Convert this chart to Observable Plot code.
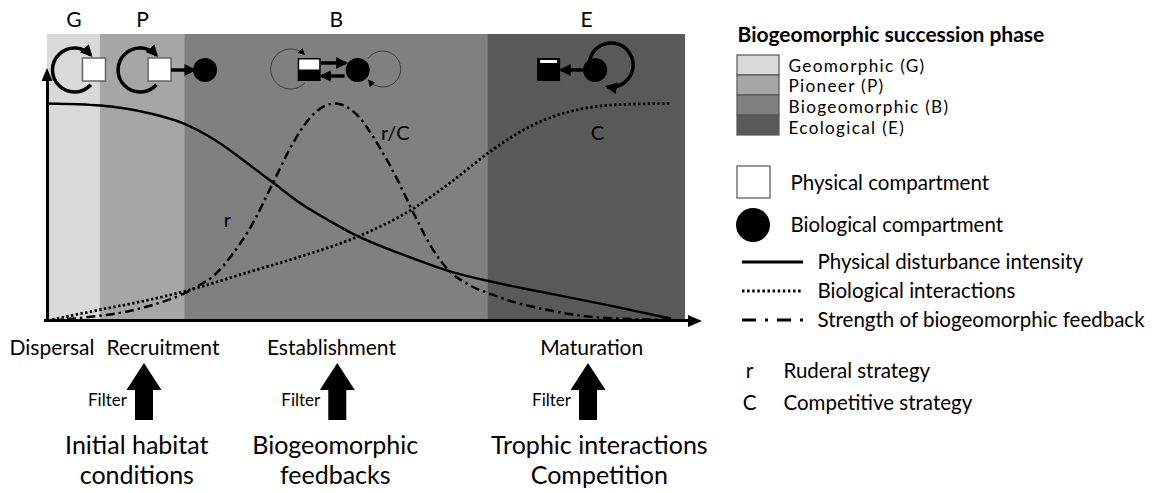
<!DOCTYPE html>
<html><head><meta charset="utf-8">
<script src="https://cdn.jsdelivr.net/npm/d3@7"></script>
<script src="https://cdn.jsdelivr.net/npm/@observablehq/plot@0.6"></script>
<style>
body{margin:0;background:#fff;}
#chart svg{font-family:Lato,"Open Sans",sans-serif;}
</style>
</head><body><div id="chart"></div>
<script>
// ---- data ----
const phaseCodes = ["G", "P", "B", "E"];
const phaseNames = ["Geomorphic (G)", "Pioneer (P)", "Biogeomorphic (B)", "Ecological (E)"];
const phaseStart = [0, 8.3, 21.5, 69];
const phaseEnd = [8.3, 21.5, 69, 100];
const phaseColors = ["#d9d9d9", "#a6a6a6", "#808080", "#595959"];

// Physical disturbance intensity (solid)
const disturbanceX = [0, 8.3, 16.1, 21.3, 26.6, 31.8, 35.3, 39.7, 44.4, 48.7, 55.3, 63.2, 71, 78.8, 88.2, 97.6];
const disturbanceY = [75.9, 75.2, 72.4, 68.9, 62.6, 54.2, 48.3, 40.9, 34.6, 29.4, 23.4, 17.1, 12.9, 9.4, 5.2, 0.7];
// Biological interactions (dotted)
const interactionsX = [0, 8.3, 16.1, 21.3, 31.8, 39.7, 48.7, 57.4, 63.2, 69.4, 76.2, 84, 89.8, 97.6];
const interactionsY = [0, 3.8, 7.3, 10.1, 17.1, 22.4, 29.4, 39.2, 48.3, 59.1, 68.5, 74.1, 75.5, 75.9];
// Strength of biogeomorphic feedback (dash-dot)
const feedbackX = [0, 4.1, 15, 22.9, 26.6, 29.2, 31.8, 35.3, 38.1, 41.2, 45.1, 48.6, 51.7, 54.9, 57.4, 60.5, 63.2, 64.7, 71, 78.8, 86.7, 97.6];
const feedbackY = [0, 0.7, 4.5, 11.2, 16.8, 23.8, 32.5, 47.9, 60.5, 71, 75.9, 71.7, 61.9, 49, 37.4, 24.5, 16.8, 14.3, 8, 3.5, 1, 0.2];

const curveLabels = ["r", "r/C", "C"];
const curveLabelX = [28.2, 54.5, 86.2];
const curveLabelY = [35, 65.5, 65.5];

const stageLabels = ["Dispersal", "Recruitment", "Establishment", "Maturation"];
const stageX = [0.7, 18.1, 44.5, 85.3];
const filterDrivers = ["Initial habitat\nconditions", "Biogeomorphic\nfeedbacks", "Trophic interactions\nCompetition"];
const filterX = [15.2, 45.5, 84.8];
const driverX = [14, 45.1, 86.5];

const legendTitle = "Biogeomorphic succession phase";
const compartmentLabels = ["Physical compartment", "Biological compartment"];
const lineLabels = ["Physical disturbance intensity", "Biological interactions", "Strength of biogeomorphic feedback"];
const strategySymbols = ["r", "C"];
const strategyLabels = ["Ruderal strategy", "Competitive strategy"];

// ---- tables ----
const bands = phaseCodes.map((c, i) => ({code: c, name: phaseNames[i], x1: phaseStart[i], x2: phaseEnd[i], color: phaseColors[i]}));
const pts = (xs, ys) => xs.map((x, i) => ({x, y: ys[i]}));
const disturbance = pts(disturbanceX, disturbanceY);
const interactions = pts(interactionsX, interactionsY);
const feedback = pts(feedbackX, feedbackY);

// ---- layout (pixel helpers) ----
const XR = [47, 685], YR = [320, 34];
const ux = p => (p - XR[0]) / (XR[1] - XR[0]) * 100;
const uy = p => (YR[0] - p) / (YR[0] - YR[1]) * 100;
const FONT = 'Lato,"Open Sans",sans-serif';
const LEG = 20.5;

const lineStyles = [
  {dash: null, w: 3},
  {dash: "2.5,2.6", w: 3},
  {dash: "14,9,3,9", w: 3}
];

function glyphs(index, scales) {
  const g = d3.create("svg:g");
  const defs = g.append("defs");
  const marker = (id, size) => defs.append("marker").attr("id", id)
    .attr("viewBox", "0 0 10 10").attr("refX", 8).attr("refY", 5)
    .attr("markerUnits", "userSpaceOnUse").attr("markerWidth", size).attr("markerHeight", size)
    .attr("orient", "auto").append("path").attr("d", "M0,0L10,5L0,10Z").attr("fill", "black");
  marker("ahBig", 12); marker("ahSmall", 7);
  const rad = a => a * Math.PI / 180;
  const arc = (cx, cy, r, a0, a1) => {
    const span = ((a1 - a0) % 360 + 360) % 360;
    const p0 = [cx + r * Math.cos(rad(a0)), cy + r * Math.sin(rad(a0))];
    const p1 = [cx + r * Math.cos(rad(a1)), cy + r * Math.sin(rad(a1))];
    return `M${p0}A${r},${r} 0 ${span > 180 ? 1 : 0} 1 ${p1}`;
  };
  const loop = (cx, cy, r, a0, a1, thick) => g.append("path").attr("d", arc(cx, cy, r, a0, a1))
    .attr("fill", "none").attr("stroke", thick ? "black" : "#333").attr("stroke-width", thick ? 3.5 : 0.9)
    .attr("marker-end", thick ? "url(#ahBig)" : "url(#ahSmall)");
  const arrow = (x1, y1, x2, y2) => g.append("line").attr("x1", x1).attr("y1", y1).attr("x2", x2).attr("y2", y2)
    .attr("stroke", "black").attr("stroke-width", 3.5).attr("marker-end", "url(#ahBig)");
  const square = (x, y, kind) => {
    const s = 23;
    if (kind === "white") g.append("rect").attr("x", x).attr("y", y).attr("width", s).attr("height", s).attr("fill", "white").attr("stroke", "#666").attr("stroke-width", 1.5);
    if (kind === "half") {
      g.append("rect").attr("x", x).attr("y", y).attr("width", s).attr("height", s).attr("fill", "black");
      g.append("rect").attr("x", x + 1.5).attr("y", y + 1.5).attr("width", s - 3).attr("height", 10).attr("fill", "white");
    }
    if (kind === "black") {
      g.append("rect").attr("x", x).attr("y", y).attr("width", s).attr("height", s).attr("fill", "black");
      g.append("rect").attr("x", x + 3).attr("y", y + 2).attr("width", s - 6).attr("height", 3).attr("fill", "white");
    }
  };
  const circle = (cx, cy, r) => g.append("circle").attr("cx", cx).attr("cy", cy).attr("r", r).attr("fill", "black");

  // phase icons (placed relative to band centres)
  const bc = bands.map(b => scales.x((b.x1 + b.x2) / 2));
  // G
  loop(bc[0] + 1, 70, 22, 42, 318, true); square(bc[0] + 9, 58, "white");
  // P
  loop(bc[1] - 2, 70, 22, 42, 318, true); square(bc[1] + 6, 58, "white");
  arrow(bc[1] + 29, 70, bc[1] + 52, 70); circle(bc[1] + 63, 70, 12);
  // B
  loop(bc[2] - 45, 69, 20, 45, 312, false); loop(bc[2] + 47, 69, 18, 215, 140, false);
  square(bc[2] - 38, 58, "half"); circle(bc[2] + 22, 70, 12);
  arrow(bc[2] - 15, 63, bc[2] + 10, 63); arrow(bc[2] + 9, 76, bc[2] - 14, 76);
  // E
  loop(bc[3] + 25, 65, 22, 190, 100, true);
  square(bc[3] - 49, 58, "black"); circle(bc[3] + 9, 70, 12);
  arrow(bc[3] - 3, 70, bc[3] - 25, 70);

  // axis heads
  const x0 = scales.x(0), y0 = scales.y(0);
  g.append("path").attr("d", `M${x0},${y0 - 252}L${x0 - 5.5},${y0 - 239}L${x0 + 5.5},${y0 - 239}Z`).attr("fill", "black");
  g.append("path").attr("d", `M${x0 + 655},${y0 + 1}L${x0 + 641},${y0 - 5}L${x0 + 641},${y0 + 7}Z`).attr("fill", "black");

  // filter arrows
  filterX.forEach(fx => {
    const cx = scales.x(fx);
    g.append("path").attr("d", `M${cx},363L${cx + 17.5},390L${cx + 9},390L${cx + 9},420L${cx - 9},420L${cx - 9},390L${cx - 17.5},390Z`).attr("fill", "black");
  });

  // legend swatches
  bands.forEach((b, i) => g.append("rect").attr("x", 737).attr("y", 55 + i * 20).attr("width", 42).attr("height", 20)
    .attr("fill", b.color).attr("stroke", "#555").attr("stroke-width", 1.2));
  g.append("rect").attr("x", 737).attr("y", 166).attr("width", 33).attr("height", 32).attr("fill", "white").attr("stroke", "#555").attr("stroke-width", 1.2);
  g.append("circle").attr("cx", 753).attr("cy", 225).attr("r", 17).attr("fill", "black");
  lineStyles.forEach((s, i) => {
    const l = g.append("line").attr("x1", 742).attr("x2", 803).attr("y1", 262 + i * 29).attr("y2", 262 + i * 29)
      .attr("stroke", "black").attr("stroke-width", s.w);
    if (s.dash) l.attr("stroke-dasharray", s.dash);
  });
  return g.node();
}

const chart = Plot.plot({
  width: 1165, height: 493,
  margin: 0,
  x: {domain: [0, 100], range: XR, axis: null},
  y: {domain: [0, 100], range: YR, axis: null},
  style: {fontFamily: FONT, background: "white", color: "black"},
  marks: [
    Plot.rect(bands, {x1: "x1", x2: "x2", y1: 0, y2: 100, fill: "color"}),
    Plot.text(bands, {x: d => (d.x1 + d.x2) / 2, y: uy(20), text: "code", fontSize: 21, fill: "black"}),
    Plot.line(disturbance, {x: "x", y: "y", curve: "monotone-x", stroke: "black", strokeWidth: 2.5}),
    Plot.line(interactions, {x: "x", y: "y", curve: "monotone-x", stroke: "black", strokeWidth: 2.8, strokeLinecap: "butt", strokeDasharray: "2.4,2.4"}),
    Plot.line(feedback, {x: "x", y: "y", curve: "monotone-x", stroke: "black", strokeWidth: 2.5, strokeLinecap: "butt", strokeDasharray: "9,4,2.5,4"}),
    Plot.text(curveLabels, {x: (d, i) => curveLabelX[i], y: (d, i) => curveLabelY[i], text: d => d, fontSize: 20, fill: "black"}),
    Plot.ruleX([0], {y1: 0, y2: uy(78), stroke: "black", strokeWidth: 3}),
    Plot.ruleY([0], {x1: ux(44), x2: ux(690), stroke: "black", strokeWidth: 3}),
    glyphs,
    // bottom annotations
    Plot.text(stageLabels, {x: (d, i) => stageX[i], y: uy(348), text: d => d, fontSize: 21, fill: "black"}),
    Plot.text(filterX, {x: d => d, y: uy(400), dx: -37, text: () => "Filter", fontSize: 17, fill: "black"}),
    Plot.text(filterDrivers, {x: (d, i) => driverX[i], y: uy(459), text: d => d, fontSize: 25, lineHeight: 1.18, fill: "black"}),
    // legend
    Plot.text([legendTitle], {x: ux(737), y: uy(35), text: d => d, textAnchor: "start", fontSize: 21, fontWeight: "bold", fill: "black"}),
    Plot.text(phaseNames, {x: ux(788), y: (d, i) => uy(65.5 + i * 20.8), text: d => d, textAnchor: "start", fontSize: 17.2, fill: "black"}),
    Plot.text(compartmentLabels, {x: ux(790), y: (d, i) => uy(183 + i * 42), text: d => d, textAnchor: "start", fontSize: LEG, fill: "black"}),
    Plot.text(lineLabels, {x: ux(817), y: (d, i) => uy(262 + i * 29), text: d => d, textAnchor: "start", fontSize: LEG, fill: "black"}),
    Plot.text(strategySymbols, {x: ux(749), y: (d, i) => uy(371 + i * 32), text: d => d, fontSize: LEG, fill: "black"}),
    Plot.text(strategyLabels, {x: ux(783), y: (d, i) => uy(371 + i * 32), text: d => d, textAnchor: "start", fontSize: LEG, fill: "black"})
  ]
});
// phase names sit on tight 20px rows: widen them with letter spacing instead of a taller font
chart.querySelectorAll("text").forEach(t => {
  if (phaseNames.includes(t.textContent)) t.setAttribute("letter-spacing", "1.3");
});
document.getElementById("chart").appendChild(chart);
</script>
</body></html>
